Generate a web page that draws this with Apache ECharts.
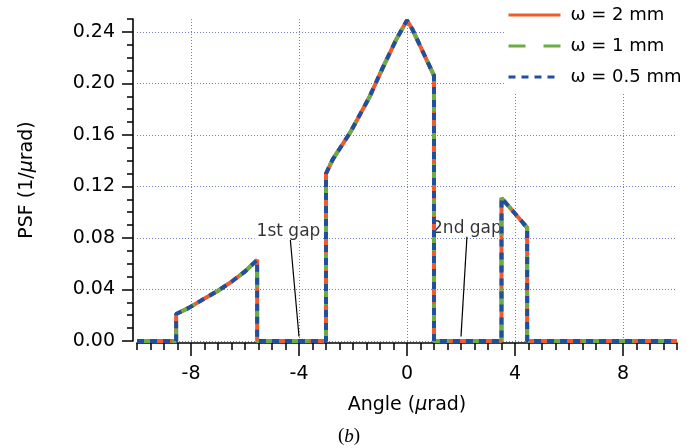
<!DOCTYPE html>
<html>
<head>
<meta charset="utf-8">
<script src="https://cdn.jsdelivr.net/npm/echarts@6/dist/echarts.min.js"></script>
<style>
  html, body { margin: 0; padding: 0; background: #fff; }
  #chart { width: 698px; height: 448px; }
</style>
</head>
<body>
<div id="chart"></div>
<script>
// Point spread function versus angle; vertical steps are repeated angles.
const angle = [-10, -8.55, -8.55, -8.1, -7.5, -7.0, -6.5, -6.0, -5.7, -5.55, -5.55,
               -3.0, -3.0, -2.75, -2.1, -1.4, -0.9, -0.4, 0.0, 0.2, 1.0, 1.0,
               3.5, 3.5, 3.75, 4.45, 4.45, 10];
// The three beam widths give the same curve.
const psf2mm  = [0, 0, 0.021, 0.0255, 0.033, 0.039, 0.046, 0.054, 0.060, 0.063, 0,
                 0, 0.130, 0.141, 0.162, 0.189, 0.212, 0.234, 0.249, 0.242, 0.206, 0,
                 0, 0.111, 0.105, 0.088, 0, 0];
const psf1mm  = psf2mm.slice();
const psf05mm = psf2mm.slice();

const beamWidths = ['ω = 2 mm', 'ω = 1 mm', 'ω = 0.5 mm'];
const xMajorTicks = [-8, -4, 0, 4, 8];
const yMajorTicks = [0, 0.04, 0.08, 0.12, 0.16, 0.20, 0.24];

const gapNotes = ['1st gap', '2nd gap'];
const gapTextAt = [[-4.39, 0.0848], [2.22, 0.0876]];
const gapArrowFrom = [[-4.32, 0.0784], [2.22, 0.081]];
const gapArrowTo = [[-4.0, 0.0035], [2.0, 0.0035]];

const curves = [psf2mm, psf1mm, psf05mm];
const colors = ['#f15a2b', '#6cac45', '#1f4f9e'];
const dashes = ['solid', [17, 18], [7, 6]];

const FONT = 'DejaVu Sans';
const chart = echarts.init(document.getElementById('chart'), null, { renderer: 'canvas' });

const gridLine = { show: true, lineStyle: { color: '#6a7fcf', width: 1, type: [1, 2] } };
const axisInk = { color: '#000', width: 1.6 };

chart.setOption({
  animation: false,
  textStyle: { fontFamily: FONT, color: '#000' },
  grid: { left: 137, right: 21, top: 19, bottom: 107, containLabel: false },
  xAxis: [
    { // minor ticks
      type: 'value', min: -10, max: 10, interval: 0.5, position: 'bottom', offset: 2,
      axisLine: { show: true, onZero: false, lineStyle: axisInk },
      axisTick: { show: true, length: 7, lineStyle: { color: '#000', width: 1.5 } },
      axisLabel: { show: false }, splitLine: { show: false }
    },
    { // major ticks, labels, grid
      type: 'value', min: -10, max: 10, position: 'bottom', offset: 2,
      axisLine: { show: false, onZero: false },
      axisTick: { show: true, length: 13, customValues: xMajorTicks, lineStyle: { color: '#000', width: 1.5 } },
      axisLabel: { show: true, customValues: xMajorTicks, margin: 22, fontSize: 19, color: '#000', fontFamily: FONT },
      splitLine: gridLine,
      name: '{n|Angle (}{i|µ}{n|rad)}', nameLocation: 'middle', nameGap: 53,
      nameTextStyle: { rich: { n: { fontSize: 19, fontFamily: FONT, color: '#000' },
                               i: { fontSize: 19, fontFamily: FONT, fontStyle: 'italic', color: '#000' } } }
    }
  ],
  yAxis: [
    { // minor ticks
      type: 'value', min: 0, max: 0.25, interval: 0.01, position: 'left', offset: 4,
      axisLine: { show: true, onZero: false, lineStyle: axisInk },
      axisTick: { show: true, length: 6, lineStyle: { color: '#000', width: 1.5 } },
      axisLabel: { show: false }, splitLine: { show: false }
    },
    { // major ticks, labels, grid
      type: 'value', min: 0, max: 0.25, position: 'left', offset: 4,
      axisLine: { show: false, onZero: false },
      axisTick: { show: true, length: 11, customValues: yMajorTicks, lineStyle: { color: '#000', width: 1.5 } },
      axisLabel: { show: true, customValues: yMajorTicks, margin: 18, fontSize: 19, color: '#000', fontFamily: FONT,
                   formatter: v => v.toFixed(2) },
      splitLine: gridLine,
      name: '{n|PSF (1/}{i|µ}{n|rad)}', nameLocation: 'middle', nameGap: 96,
      nameTextStyle: { rich: { n: { fontSize: 19, fontFamily: FONT, color: '#000' },
                               i: { fontSize: 19, fontFamily: FONT, fontStyle: 'italic', color: '#000' } } }
    }
  ],
  legend: {
    data: beamWidths, orient: 'vertical', left: 505, top: 0,
    padding: [6, 8, 6, 2], itemGap: 13, itemWidth: 52, itemHeight: 16,
    backgroundColor: '#fff', selectedMode: false,
    itemStyle: { opacity: 0 },
    lineStyle: { width: 3 },
    textStyle: { fontSize: 18, fontFamily: FONT, color: '#000', padding: [0, 0, 0, 5] }
  },
  title: {
    text: '{p|(}{i|b}{p|)}', left: 'center', top: 422,
    textStyle: { fontWeight: 'normal',
                 rich: { p: { fontSize: 19, fontFamily: 'Liberation Serif', fontWeight: 'normal', color: '#000' },
                         i: { fontSize: 19, fontFamily: 'Liberation Serif', fontWeight: 'normal', fontStyle: 'italic', color: '#000' } } }
  },
  series: beamWidths.map((name, i) => ({
    name, type: 'line', xAxisIndex: 0, yAxisIndex: 0,
    data: angle.map((a, k) => [a, curves[i][k]]),
    symbol: 'none', showSymbol: false, clip: false,
    lineStyle: { color: colors[i], width: 4, type: dashes[i], cap: 'butt' },
    itemStyle: { color: colors[i] }
  })).concat([
    {
      name: 'gap arrows', type: 'line', xAxisIndex: 0, yAxisIndex: 0, data: [],
      markLine: {
        silent: true, animation: false, symbol: ['none', 'arrow'], symbolSize: [0, 9],
        label: { show: false },
        lineStyle: { color: '#000', width: 1.2, type: 'solid' },
        data: gapArrowFrom.map((f, i) => [{ coord: f }, { coord: gapArrowTo[i] }])
      }
    },
    {
      name: 'gap notes', type: 'scatter', xAxisIndex: 0, yAxisIndex: 0,
      symbolSize: 1, itemStyle: { color: 'rgba(0,0,0,0)' },
      data: gapNotes.map((n, i) => ({ name: n, value: gapTextAt[i] })),
      label: { show: true, position: 'inside', formatter: p => p.name,
               fontSize: 17, fontFamily: FONT, color: '#000',
               backgroundColor: '#fff', padding: [1, 2] }
    }
  ])
});
</script>
</body>
</html>
